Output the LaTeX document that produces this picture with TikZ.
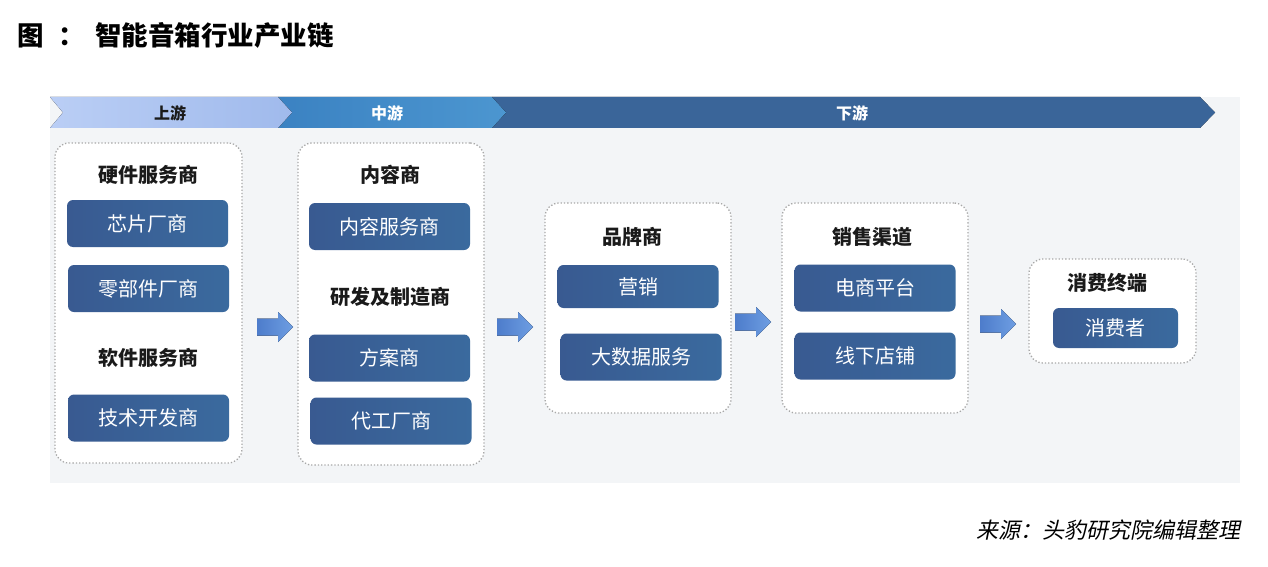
\documentclass[tikz,border=0pt]{standalone}
\usepackage{fontspec}
\setmainfont{Noto Sans CJK SC}
\newfontfamily\slantcjk{Noto Sans CJK SC}[FakeSlant=0.2]
\usetikzlibrary{positioning}
\definecolor{bgpanel}{HTML}{F3F5F7}
\definecolor{upA}{HTML}{BACEF5}
\definecolor{upB}{HTML}{A0BAEC}
\definecolor{midA}{HTML}{3B82C2}
\definecolor{midB}{HTML}{4C96D0}
\definecolor{downA}{HTML}{3A6599}
\definecolor{boxA}{HTML}{395A91}
\definecolor{boxB}{HTML}{3A6A9E}
\definecolor{dotgray}{HTML}{A8A8A8}
\definecolor{arrA}{HTML}{4D7CCB}
\definecolor{arrB}{HTML}{6E9EE2}
\definecolor{titletext}{HTML}{1A1A1A}
\tikzset{
  groupbox/.style={draw=dotgray, line width=1.3pt, dotted, rounded corners=14pt, fill=white, inner sep=0pt},
  itembox/.style={rounded corners=6pt, left color=boxA, right color=boxB, text=white, font=\fontsize{20}{22}\selectfont, minimum width=161pt, minimum height=47pt, inner sep=0pt},
  grouptitle/.style={font=\bfseries\fontsize{20}{22}\selectfont, text=titletext, inner sep=0pt},
  bannertext/.style={font=\bfseries\fontsize{16}{18}\selectfont, inner sep=0pt},
  blockarrow/.pic={\fill[left color=arrA, right color=arrB] (-18,-8.5) -- (3,-8.5) -- (3,-15) -- (18,0) -- (3,15) -- (3,8.5) -- (-18,8.5) -- cycle;}
}
\begin{document}
\begin{tikzpicture}[x=1pt,y=-1pt]
\useasboundingbox (0,0) rectangle (1268,567);
% background panel
\fill[bgpanel] (50,97) rectangle (1240,483);
% banner
\fill[left color=downA, right color=downA] (492,97) -- (1200,97) -- (1215,112.5) -- (1200,128) -- (492,128) -- (506,112.5) -- cycle;
\fill[left color=midA, right color=midB] (278,97) -- (492,97) -- (506,112.5) -- (492,128) -- (278,128) -- (292,112.5) -- cycle;
\fill[left color=upA, right color=upB] (50,97) -- (278,97) -- (292,112.5) -- (278,128) -- (50,128) -- (63,112.5) -- cycle;
\node[bannertext, text=titletext] (up) at (170,113) {上游};
\node[bannertext, text=white] (mid) at (387,113) {中游};
\node[bannertext, text=white] (down) at (852,113) {下游};
% title
\node[anchor=west, font=\bfseries\fontsize{26.5}{28}\selectfont, inner sep=0pt] (title) at (17,35) {图\hspace{9pt}\ ：\ \hspace{4pt}智能音箱行业产业链};
% source
\node[anchor=east, font=\slantcjk\fontsize{22}{24}\selectfont, inner sep=0pt] (src) at (1241,530) {来源：头豹研究院编辑整理};
% group boxes
\node[groupbox, minimum width=187pt, minimum height=320pt] (g1) at (148.5,303) {};
\node[groupbox, minimum width=186pt, minimum height=322pt] (g2) at (391,304) {};
\node[groupbox, minimum width=186pt, minimum height=210pt] (g3) at (638,308) {};
\node[groupbox, minimum width=186pt, minimum height=210pt] (g4) at (875,308) {};
\node[groupbox, minimum width=167pt, minimum height=104pt] (g5) at (1112.5,311) {};
% group titles
\node[grouptitle] (t1) at (148,175) {硬件服务商};
\node[grouptitle] (t2) at (148,358) {软件服务商};
\node[grouptitle] (t3) at (390,175) {内容商};
\node[grouptitle] (t4) at (390,297) {研发及制造商};
\node[grouptitle] (t5) at (632,237) {品牌商};
\node[grouptitle] (t6) at (872,237) {销售渠道};
\node[grouptitle] (t7) at (1107,283) {消费终端};
% items
\node[itembox] (b1) at (147.5,223.5) {芯片厂商};
\node[itembox] (b2) at (148.5,288.5) {零部件厂商};
\node[itembox] (b3) at (148.5,418) {技术开发商};
\node[itembox] (b4) at (389.5,226.5) {内容服务商};
\node[itembox] (b5) at (389.5,358) {方案商};
\node[itembox] (b6) at (391,421) {代工厂商};
\node[itembox, minimum height=43pt] (b7) at (638,286.5) {营销};
\node[itembox] (b8) at (641,357) {大数据服务};
\node[itembox] (b9) at (875,288) {电商平台};
\node[itembox] (b10) at (875,356) {线下店铺};
\node[itembox, minimum width=125pt, minimum height=40pt] (b11) at (1115.5,328) {消费者};
% block arrows between groups
\pic at (275,327) {blockarrow};
\pic at (515,327) {blockarrow};
\pic at (753,322) {blockarrow};
\pic at (998,324) {blockarrow};
\end{tikzpicture}
\end{document}
